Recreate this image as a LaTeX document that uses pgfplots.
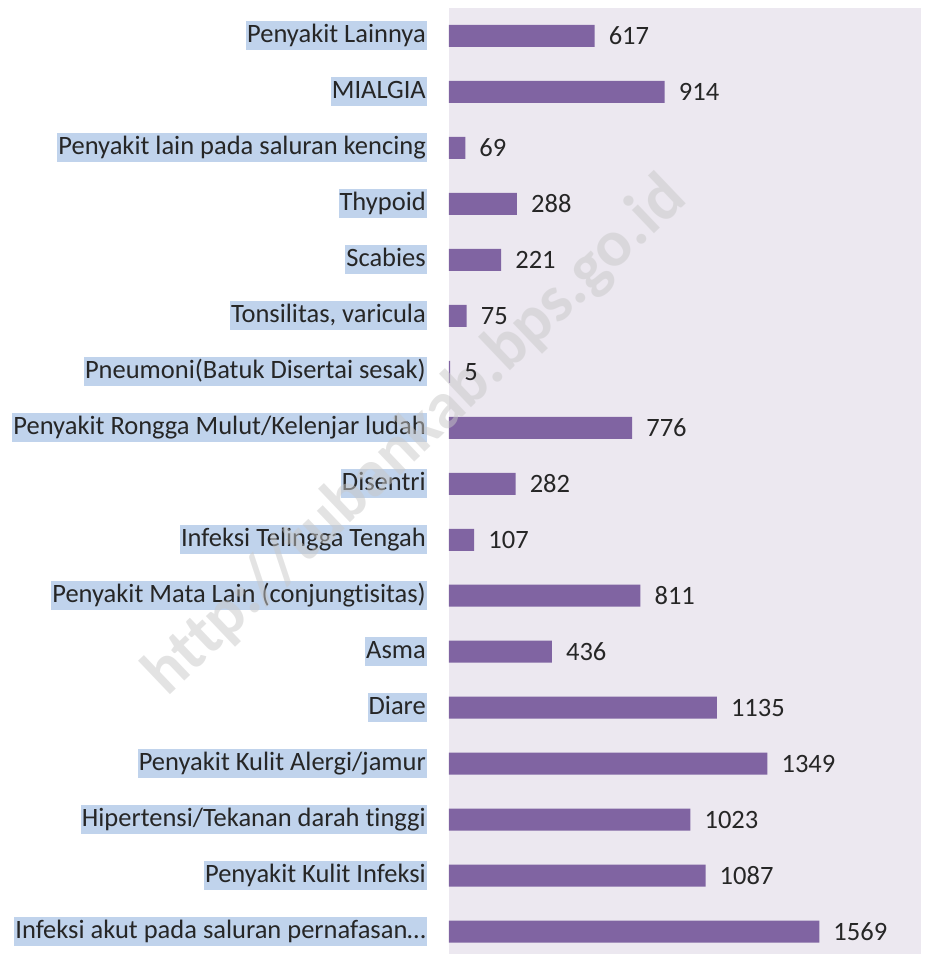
\documentclass[border=0pt]{standalone}
\usepackage{pgfplots}
\pgfplotsset{compat=1.18}
\usepackage{fontspec}
\setmainfont[Ligatures=NoCommon]{Carlito}
\definecolor{barpurple}{RGB}{128,100,162}
\definecolor{plotbg}{RGB}{236,232,240}
\definecolor{labelbg}{RGB}{192,211,236}
\definecolor{wm}{RGB}{200,200,200}

\begin{document}
\begin{tikzpicture}
\begin{axis}[
  xbar,
  bar width=22pt,
  scale only axis,
  width=472pt, height=946pt,
  xmin=0, xmax=2000,
  ymin=-0.4, ymax=16.5,
  clip=false,
  axis line style={draw=none},
  xtick=\empty,
  ytick={0,1,2,3,4,5,6,7,8,9,10,11,12,13,14,15,16},
  yticklabels={{Infeksi akut pada saluran pernafasan\ldots},Penyakit Kulit Infeksi,Hipertensi/Tekanan darah tinggi,Penyakit Kulit Alergi/jamur,Diare,Asma,Penyakit Mata Lain (conjungtisitas),Infeksi Telingga Tengah,Disentri,Penyakit Rongga Mulut/Kelenjar ludah,Pneumoni(Batuk Disertai sesak),{Tonsilitas, varicula},Scabies,Thypoid,Penyakit lain pada saluran kencing,MIALGIA,Penyakit Lainnya},
  major tick length=0pt,
  yticklabel style={fill=labelbg, inner xsep=1pt, inner ysep=2pt,
    text height=19pt, text depth=6pt, anchor=east, xshift=-22pt,
    font=\fontsize{26.5}{26.5}\selectfont, text=black!85},
  axis background/.style={fill=plotbg},
  /pgf/number format/assume math mode=true,
  /pgf/number format/1000 sep={},
  nodes near coords,
  nodes near coords style={font=\fontsize{26.5}{26.5}\selectfont, text=black!85,
    inner sep=0pt, anchor=west, xshift=14pt},
]
\addplot[fill=barpurple, draw=none] coordinates {
  (1569,0) (1087,1) (1023,2) (1349,3) (1135,4) (436,5) (811,6) (107,7) (282,8)
  (776,9) (5,10) (75,11) (221,12) (288,13) (69,14) (914,15) (617,16)
};
\node[rotate=43.6, text=wm, opacity=0.5, font=\bfseries\fontsize{66}{66}\selectfont]
  at (rel axis cs:-0.07,0.547) {http://tubankab.bps.go.id};
\end{axis}
\path ([shift={(-449pt,0pt)}]current axis.south west)
      ([shift={(4pt,8pt)}]current axis.north east);
\end{tikzpicture}
\end{document}
